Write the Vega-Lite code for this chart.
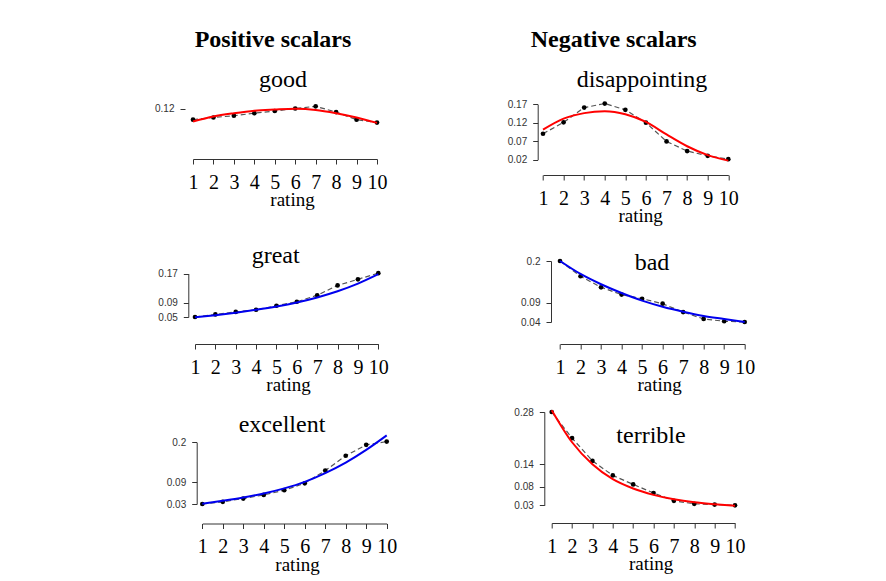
{
  "$schema": "https://vega.github.io/schema/vega-lite/v6.json",
  "background": "white",
  "padding": {"left": 154, "top": 28, "right": 5, "bottom": 5},
  "bounds": "flush",
  "spacing": 352.7,
  "config": {
    "view": {"stroke": null},
    "axis": {"grid": false, "domainColor": "#333", "tickColor": "#333", "domainWidth": 1, "tickWidth": 1, "labelOverlap": false, "labelFlush": false, "labelBound": false},
    "axisX": {"tickSize": 5, "labelFont": "Liberation Serif", "labelFontSize": 20, "labelColor": "black", "labelPadding": 8, "labelAngle": 0, "titleFont": "Liberation Serif", "titleFontSize": 19, "titleFontWeight": "normal", "titleColor": "black", "titleBaseline": "alphabetic", "titleY": 46.5},
    "axisY": {"tickSize": 5, "labelFont": "Liberation Sans", "labelFontSize": 10, "labelColor": "#333", "labelPadding": 6, "format": "~g"},
    "title": {"font": "Liberation Serif", "fontSize": 24, "fontWeight": "normal", "color": "black", "anchor": "middle", "frame": "group", "baseline": "alphabetic"}
  },
  "datasets": {
    "d": [
      {"w": "good", "r": 1, "p": 0.089, "f": 0.084},
      {"w": "good", "r": 2, "p": 0.095, "f": 0.098},
      {"w": "good", "r": 3, "p": 0.100, "f": 0.107},
      {"w": "good", "r": 4, "p": 0.107, "f": 0.114},
      {"w": "good", "r": 5, "p": 0.113, "f": 0.117},
      {"w": "good", "r": 6, "p": 0.120, "f": 0.119},
      {"w": "good", "r": 7, "p": 0.126, "f": 0.116},
      {"w": "good", "r": 8, "p": 0.110, "f": 0.107},
      {"w": "good", "r": 9, "p": 0.089, "f": 0.095},
      {"w": "good", "r": 10, "p": 0.081, "f": 0.080},
      {"w": "great", "r": 1, "p": 0.050, "f": 0.049},
      {"w": "great", "r": 2, "p": 0.057, "f": 0.055},
      {"w": "great", "r": 3, "p": 0.064, "f": 0.062},
      {"w": "great", "r": 4, "p": 0.070, "f": 0.070},
      {"w": "great", "r": 5, "p": 0.081, "f": 0.079},
      {"w": "great", "r": 6, "p": 0.092, "f": 0.090},
      {"w": "great", "r": 7, "p": 0.110, "f": 0.104},
      {"w": "great", "r": 8, "p": 0.137, "f": 0.121},
      {"w": "great", "r": 9, "p": 0.154, "f": 0.142},
      {"w": "great", "r": 10, "p": 0.171, "f": 0.168},
      {"w": "excellent", "r": 1, "p": 0.030, "f": 0.031},
      {"w": "excellent", "r": 2, "p": 0.036, "f": 0.039},
      {"w": "excellent", "r": 3, "p": 0.045, "f": 0.048},
      {"w": "excellent", "r": 4, "p": 0.055, "f": 0.059},
      {"w": "excellent", "r": 5, "p": 0.068, "f": 0.073},
      {"w": "excellent", "r": 6, "p": 0.087, "f": 0.091},
      {"w": "excellent", "r": 7, "p": 0.122, "f": 0.115},
      {"w": "excellent", "r": 8, "p": 0.163, "f": 0.144},
      {"w": "excellent", "r": 9, "p": 0.193, "f": 0.179},
      {"w": "excellent", "r": 10, "p": 0.202, "f": 0.219},
      {"w": "disappointing", "r": 1, "p": 0.090, "f": 0.101},
      {"w": "disappointing", "r": 2, "p": 0.121, "f": 0.131},
      {"w": "disappointing", "r": 3, "p": 0.161, "f": 0.146},
      {"w": "disappointing", "r": 4, "p": 0.172, "f": 0.151},
      {"w": "disappointing", "r": 5, "p": 0.155, "f": 0.143},
      {"w": "disappointing", "r": 6, "p": 0.120, "f": 0.122},
      {"w": "disappointing", "r": 7, "p": 0.069, "f": 0.088},
      {"w": "disappointing", "r": 8, "p": 0.043, "f": 0.056},
      {"w": "disappointing", "r": 9, "p": 0.030, "f": 0.032},
      {"w": "disappointing", "r": 10, "p": 0.021, "f": 0.017},
      {"w": "bad", "r": 1, "p": 0.200, "f": 0.200},
      {"w": "bad", "r": 2, "p": 0.160, "f": 0.166},
      {"w": "bad", "r": 3, "p": 0.131, "f": 0.139},
      {"w": "bad", "r": 4, "p": 0.112, "f": 0.116},
      {"w": "bad", "r": 5, "p": 0.101, "f": 0.096},
      {"w": "bad", "r": 6, "p": 0.088, "f": 0.080},
      {"w": "bad", "r": 7, "p": 0.066, "f": 0.067},
      {"w": "bad", "r": 8, "p": 0.048, "f": 0.056},
      {"w": "bad", "r": 9, "p": 0.042, "f": 0.048},
      {"w": "bad", "r": 10, "p": 0.040, "f": 0.040},
      {"w": "terrible", "r": 1, "p": 0.280, "f": 0.285},
      {"w": "terrible", "r": 2, "p": 0.210, "f": 0.199},
      {"w": "terrible", "r": 3, "p": 0.149, "f": 0.140},
      {"w": "terrible", "r": 4, "p": 0.110, "f": 0.100},
      {"w": "terrible", "r": 5, "p": 0.086, "f": 0.075},
      {"w": "terrible", "r": 6, "p": 0.063, "f": 0.058},
      {"w": "terrible", "r": 7, "p": 0.042, "f": 0.046},
      {"w": "terrible", "r": 8, "p": 0.034, "f": 0.038},
      {"w": "terrible", "r": 9, "p": 0.032, "f": 0.033},
      {"w": "terrible", "r": 10, "p": 0.030, "f": 0.029}
    ]
  },
  "hconcat": [
    {
      "bounds": "flush",
      "spacing": 0,
      "title": {"text": "Positive scalars", "fontSize": 24, "fontWeight": "bold", "offset": 16, "dx": 88},
      "vconcat": [
        {
          "width": 210, "height": 62,
          "title": {"text": "good", "offset": 5, "dx": -7},
          "data": {"name": "d"},
          "transform": [{"filter": "datum.w === 'good'"}],
          "encoding": {"x": {"field": "r", "type": "quantitative", "scale": {"domain": [1, 10], "range": [8, 192], "nice": false, "zero": false}, "axis": {"values": [1,2,3,4,5,6,7,8,9,10], "title": "rating", "titleX": 107, "offset": 0}}},
          "layer": [
            {"mark": {"type": "line", "color": "#555", "strokeWidth": 1.2, "strokeDash": [5, 3]}, "encoding": {"y": {"field": "p", "type": "quantitative", "scale": {"domain": [0.08, 0.12], "range": [25.9, 11.5], "nice": false, "zero": false}, "axis": {"values": [0.12], "format": ".2f", "domain": false, "offset": 0, "title": null}}}},
            {"mark": {"type": "circle", "color": "black", "size": 22, "opacity": 1}, "encoding": {"y": {"field": "p", "type": "quantitative", "axis": {"values": [0.12], "format": ".2f", "domain": false, "offset": 0, "title": null}}}},
            {"mark": {"type": "line", "color": "#ff0000", "strokeWidth": 2, "interpolate": "monotone"}, "encoding": {"y": {"field": "f", "type": "quantitative", "axis": {"values": [0.12], "format": ".2f", "domain": false, "offset": 0, "title": null}}}}
          ]
        },
        {
          "width": 210, "height": 185,
          "title": {"text": "great", "offset": -108.7, "dx": -14.3},
          "data": {"name": "d"},
          "transform": [{"filter": "datum.w === 'great'"}],
          "encoding": {"x": {"field": "r", "type": "quantitative", "scale": {"domain": [1, 10], "range": [10, 193.3], "nice": false, "zero": false}, "axis": {"values": [1,2,3,4,5,6,7,8,9,10], "title": "rating", "titleX": 103, "offset": 0}}},
          "layer": [
            {"mark": {"type": "line", "color": "#555", "strokeWidth": 1.2, "strokeDash": [5, 3]}, "encoding": {"y": {"field": "p", "type": "quantitative", "scale": {"domain": [0.05, 0.17], "range": [158, 114.5], "nice": false, "zero": false}, "axis": {"values": [0.05, 0.09, 0.17], "offset": -3.3, "title": null}}}},
            {"mark": {"type": "circle", "color": "black", "size": 22, "opacity": 1}, "encoding": {"y": {"field": "p", "type": "quantitative", "axis": {"values": [0.05, 0.09, 0.17], "offset": -3.3, "title": null}}}},
            {"mark": {"type": "line", "color": "#0000ee", "strokeWidth": 2, "interpolate": "monotone"}, "encoding": {"y": {"field": "f", "type": "quantitative", "axis": {"values": [0.05, 0.09, 0.17], "offset": -3.3, "title": null}}}}
          ]
        },
        {
          "width": 210, "height": 179.5,
          "title": {"text": "excellent", "offset": -93, "dx": -8},
          "data": {"name": "d"},
          "transform": [{"filter": "datum.w === 'excellent'"}],
          "encoding": {"x": {"field": "r", "type": "quantitative", "scale": {"domain": [1, 10], "range": [17.3, 201.7], "nice": false, "zero": false}, "axis": {"values": [1,2,3,4,5,6,7,8,9,10], "title": "rating", "titleX": 112, "offset": 0}}},
          "layer": [
            {"mark": {"type": "line", "color": "#555", "strokeWidth": 1.2, "strokeDash": [5, 3]}, "encoding": {"y": {"field": "p", "type": "quantitative", "scale": {"domain": [0.03, 0.2], "range": [160, 98.3], "nice": false, "zero": false}, "axis": {"values": [0.03, 0.09, 0.2], "offset": -11.7, "title": null}}}},
            {"mark": {"type": "circle", "color": "black", "size": 22, "opacity": 1}, "encoding": {"y": {"field": "p", "type": "quantitative", "axis": {"values": [0.03, 0.09, 0.2], "offset": -11.7, "title": null}}}},
            {"mark": {"type": "line", "color": "#0000ee", "strokeWidth": 2, "interpolate": "monotone"}, "encoding": {"y": {"field": "f", "type": "quantitative", "axis": {"values": [0.03, 0.09, 0.2], "offset": -11.7, "title": null}}}}
          ]
        }
      ]
    },
    {
      "bounds": "flush",
      "spacing": 0,
      "title": {"text": "Negative scalars", "fontSize": 24, "fontWeight": "bold", "offset": 16, "dx": 76},
      "vconcat": [
        {
          "width": 210, "height": 78,
          "title": {"text": "disappointing", "offset": 5, "dx": -0.7},
          "data": {"name": "d"},
          "transform": [{"filter": "datum.w === 'disappointing'"}],
          "encoding": {"x": {"field": "r", "type": "quantitative", "scale": {"domain": [1, 10], "range": [5.3, 190.6], "nice": false, "zero": false}, "axis": {"values": [1,2,3,4,5,6,7,8,9,10], "title": "rating", "titleX": 102.5, "offset": 0}}},
          "layer": [
            {"mark": {"type": "line", "color": "#555", "strokeWidth": 1.2, "strokeDash": [5, 3]}, "encoding": {"y": {"field": "p", "type": "quantitative", "scale": {"domain": [0.02, 0.17], "range": [62.5, 7.3], "nice": false, "zero": false}, "axis": {"values": [0.02, 0.07, 0.12, 0.17], "offset": 0, "title": null}}}},
            {"mark": {"type": "circle", "color": "black", "size": 22, "opacity": 1}, "encoding": {"y": {"field": "p", "type": "quantitative", "axis": {"values": [0.02, 0.07, 0.12, 0.17], "offset": 0, "title": null}}}},
            {"mark": {"type": "line", "color": "#ff0000", "strokeWidth": 2, "interpolate": "monotone"}, "encoding": {"y": {"field": "f", "type": "quantitative", "axis": {"values": [0.02, 0.07, 0.12, 0.17], "offset": 0, "title": null}}}}
          ]
        },
        {
          "width": 210, "height": 169,
          "title": {"text": "bad", "offset": -100.3, "dx": 9.3},
          "data": {"name": "d"},
          "transform": [{"filter": "datum.w === 'bad'"}],
          "encoding": {"x": {"field": "r", "type": "quantitative", "scale": {"domain": [1, 10], "range": [22.3, 207], "nice": false, "zero": false}, "axis": {"values": [1,2,3,4,5,6,7,8,9,10], "title": "rating", "titleX": 121.5, "offset": 0}}},
          "layer": [
            {"mark": {"type": "line", "color": "#555", "strokeWidth": 1.2, "strokeDash": [5, 3]}, "encoding": {"y": {"field": "p", "type": "quantitative", "scale": {"domain": [0.04, 0.2], "range": [147, 86], "nice": false, "zero": false}, "axis": {"values": [0.04, 0.09, 0.2], "offset": -13.3, "title": null}}}},
            {"mark": {"type": "circle", "color": "black", "size": 22, "opacity": 1}, "encoding": {"y": {"field": "p", "type": "quantitative", "axis": {"values": [0.04, 0.09, 0.2], "offset": -13.3, "title": null}}}},
            {"mark": {"type": "line", "color": "#0000ee", "strokeWidth": 2, "interpolate": "monotone"}, "encoding": {"y": {"field": "f", "type": "quantitative", "axis": {"values": [0.04, 0.09, 0.2], "offset": -13.3, "title": null}}}}
          ]
        },
        {
          "width": 210, "height": 179,
          "title": {"text": "terrible", "offset": -103.7, "dx": 8.3},
          "data": {"name": "d"},
          "transform": [{"filter": "datum.w === 'terrible'"}],
          "encoding": {"x": {"field": "r", "type": "quantitative", "scale": {"domain": [1, 10], "range": [14, 197.3], "nice": false, "zero": false}, "axis": {"values": [1,2,3,4,5,6,7,8,9,10], "title": "rating", "titleX": 113, "offset": 0}}},
          "layer": [
            {"mark": {"type": "line", "color": "#555", "strokeWidth": 1.2, "strokeDash": [5, 3]}, "encoding": {"y": {"field": "p", "type": "quantitative", "scale": {"domain": [0.03, 0.28], "range": [161.3, 68], "nice": false, "zero": false}, "axis": {"values": [0.03, 0.08, 0.14, 0.28], "offset": -6.6, "title": null}}}},
            {"mark": {"type": "circle", "color": "black", "size": 22, "opacity": 1}, "encoding": {"y": {"field": "p", "type": "quantitative", "axis": {"values": [0.03, 0.08, 0.14, 0.28], "offset": -6.6, "title": null}}}},
            {"mark": {"type": "line", "color": "#ff0000", "strokeWidth": 2, "interpolate": "monotone"}, "encoding": {"y": {"field": "f", "type": "quantitative", "axis": {"values": [0.03, 0.08, 0.14, 0.28], "offset": -6.6, "title": null}}}}
          ]
        }
      ]
    }
  ]
}
